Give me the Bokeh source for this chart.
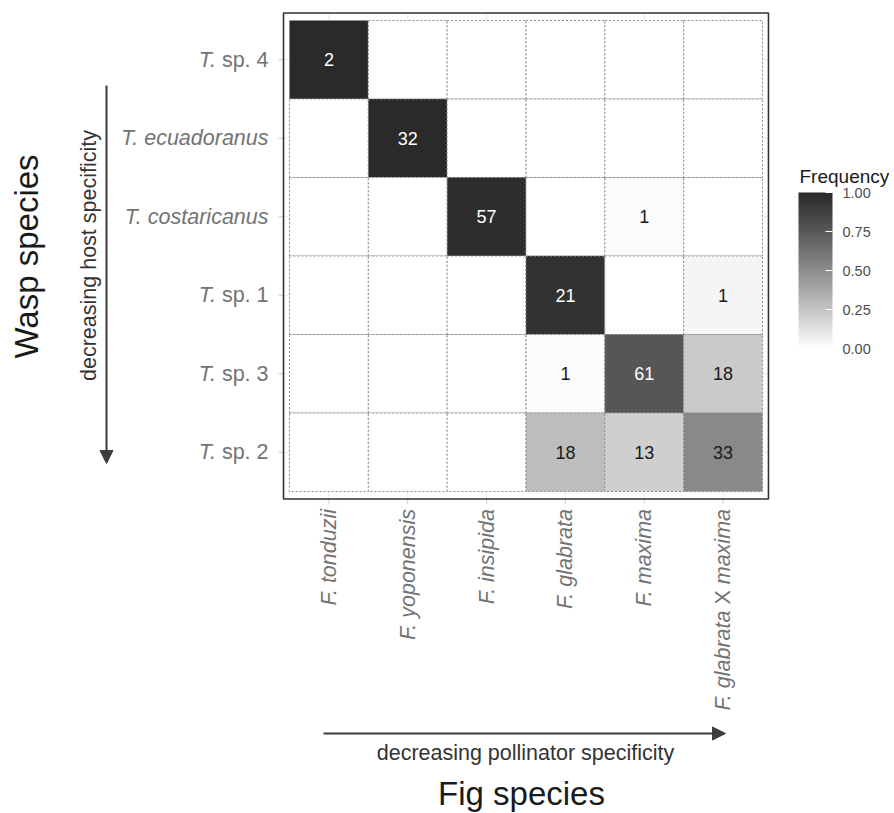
import math
from bokeh.plotting import figure
from bokeh.models import (ColumnDataSource, LinearColorMapper, ColorBar, FixedTicker,
                          PrintfTickFormatter, Arrow, NormalHead, Range1d)
from bokeh.embed import file_html
from bokeh.resources import INLINE
from bokeh.core.properties import value

# ---------------- data ----------------
fig_species = ["F. tonduzii", "F. yoponensis", "F. insipida", "F. glabrata",
               "F. maxima", "F. glabrata X maxima"]
wasp_species = ["T. sp. 4", "T. ecuadoranus", "T. costaricanus", "T. sp. 1",
                "T. sp. 3", "T. sp. 2"]
counts = [
    [2, 0, 0, 0, 0, 0],
    [0, 32, 0, 0, 0, 0],
    [0, 0, 57, 0, 1, 0],
    [0, 0, 0, 21, 0, 1],
    [0, 0, 0, 1, 61, 18],
    [0, 0, 0, 18, 13, 33],
]
legend_ticks = [0.0, 0.25, 0.5, 0.75, 1.0]

FONT = "Liberation Sans"

# ---------------- geometry (page pixels -> data units) ----------------
W_PX, H_PX = 894, 813
TILE_LEFT, TILE_TOP = 289, 20          # page px of the tile grid's top-left corner
UX, UY = 78.83, 78.5                   # px per cell
NCOL, NROW = len(fig_species), len(wasp_species)
EXP_X, EXP_Y = 6 / UX, 7.5 / UY        # panel expansion around tiles


def px_x(page_x):
    return (page_x - TILE_LEFT) / UX


def px_y(page_y):
    return NROW - (page_y - TILE_TOP) / UY


# Arial / Liberation Sans advance widths (per em)
W = {" ": .278, ".": .278, "s": .5, "p": .556, "X": .667, "m": .833, "a": .556,
     "x": .5, "i": .222}
for d in "0123456789":
    W[d] = .556


def text_w(s, size):
    return sum(W[c] for c in s) * size


# ---------------- colour scale (Lab lightness interpolation, white -> dark grey) ----------------
def grey_to_L(v):
    c = v / 255
    lin = c / 12.92 if c <= 0.04045 else ((c + 0.055) / 1.055) ** 2.4
    f = lin ** (1 / 3) if lin > 0.008856 else 7.787 * lin + 16 / 116
    return 116 * f - 16


def L_to_grey(Lv):
    fy = (Lv + 16) / 116
    Y = fy ** 3 if fy ** 3 > 0.008856 else Lv / 903.3
    s = 12.92 * Y if Y <= 0.0031308 else 1.055 * Y ** (1 / 2.4) - 0.055
    g = max(0, min(255, int(round(255 * s))))
    return "#%02x%02x%02x" % (g, g, g)


L_hi = grey_to_L(42)
palette = [L_to_grey(100 + (L_hi - 100) * k / 255) for k in range(256)]
mapper = LinearColorMapper(palette=palette, low=0, high=1)

# ---------------- sources ----------------
xs, ys, fr = [], [], []
tx, ty, tt, tc = [], [], [], []
for i, row in enumerate(counts):
    tot = sum(row)
    for j, c in enumerate(row):
        f = c / tot
        xs.append(0.5 + j)
        ys.append(NROW - 0.5 - i)
        fr.append(f)
        if c > 0:
            tx.append(0.5 + j)
            ty.append(NROW - 0.5 - i)
            tt.append(str(c))
            tc.append("white" if f > 0.6 else "#1a1a1a")

tiles = ColumnDataSource(dict(x=xs, y=ys, freq=fr))
cell_labels = ColumnDataSource(dict(x=tx, y=ty, text=tt, color=tc))

# ---------------- figure (frame covers the whole canvas) ----------------
p = figure(width=W_PX, height=H_PX,
           x_range=Range1d(px_x(0), px_x(W_PX)), y_range=Range1d(px_y(H_PX), px_y(0)),
           min_border=0, x_axis_location=None, y_axis_location=None,
           output_backend="svg", toolbar_location=None,
           background_fill_color="white", border_fill_color="white")
p.outline_line_color = None
p.grid.visible = False

pl, pr = -EXP_X, NCOL + EXP_X
pb, pt = -EXP_Y, NROW + EXP_Y
xc = [0.5 + j for j in range(NCOL)]
yc = [NROW - 0.5 - i for i in range(NROW)]

# grid lines (under tiles)
p.segment(x0=xc, x1=xc, y0=[pb] * NCOL, y1=[pt] * NCOL, line_color="#ebebeb", line_width=1)
p.segment(x0=[pl] * NROW, x1=[pr] * NROW, y0=yc, y1=yc, line_color="#ebebeb", line_width=1)

# ticks
TICK = 5
p.segment(x0=xc, x1=xc, y0=[pb] * NCOL, y1=[pb - TICK / UY] * NCOL, line_color="#cfcfcf", line_width=1)
p.segment(x0=[pl] * NROW, x1=[pl - TICK / UX] * NROW, y0=yc, y1=yc, line_color="#cfcfcf", line_width=1)

# tiles
p.rect("x", "y", width=1, height=1, source=tiles,
       fill_color={"field": "freq", "transform": mapper},
       line_color="#8c8c8c", line_dash="2 2", line_width=1)
p.text("x", "y", text="text", source=cell_labels, text_color="color",
       text_align="center", text_baseline="middle",
       text_font=value(FONT), text_font_size="18px")

# panel border
p.quad(left=[pl], right=[pr], bottom=[pb], top=[pt], fill_color=None,
       line_color="#333333", line_width=1.6)

# ---------------- tick labels ----------------
TS = "21.5px"
TSN = 21.5
TCOL = "#737373"
y_right = pl - 15 / UX
up_x, up_y, up_t = [], [], []
it_x, it_y, it_t = [], [], []
for i, name in enumerate(wasp_species):
    if " sp. " in name:
        rest = name[3:]
        up_x.append(y_right); up_y.append(yc[i]); up_t.append(rest)
        it_x.append(y_right - text_w(" " + rest, TSN) / UX); it_y.append(yc[i]); it_t.append("T.")
    else:
        it_x.append(y_right); it_y.append(yc[i]); it_t.append(name)
p.text(it_x, it_y, text=it_t, text_align="right", text_baseline="middle",
       text_font=value(FONT), text_font_size=TS, text_font_style="italic", text_color=TCOL)
p.text(up_x, up_y, text=up_t, text_align="right", text_baseline="middle",
       text_font=value(FONT), text_font_size=TS, text_color=TCOL)

x_top = pb - 10 / UY
vx_i, vy_i, vt_i = [], [], []
vx_u, vy_u, vt_u = [], [], []
for j, name in enumerate(fig_species):
    if " X " in name:
        a, b = name.split(" X ")
        vx_i += [xc[j], xc[j]]
        vy_i += [x_top, x_top - text_w(" X " + b, TSN) / UY]
        vt_i += [b, a]
        vx_u.append(xc[j]); vy_u.append(x_top - text_w(" " + b, TSN) / UY); vt_u.append("X")
    else:
        vx_i.append(xc[j]); vy_i.append(x_top); vt_i.append(name)
p.text(vx_i, vy_i, text=vt_i, angle=math.pi / 2, text_align="right", text_baseline="middle",
       text_font=value(FONT), text_font_size=TS, text_font_style="italic", text_color=TCOL)
p.text(vx_u, vy_u, text=vt_u, angle=math.pi / 2, text_align="right", text_baseline="middle",
       text_font=value(FONT), text_font_size=TS, text_color=TCOL)

# ---------------- axis titles and arrows ----------------
ACOL = "#3d3d3d"
p.add_layout(Arrow(end=NormalHead(size=13, fill_color=ACOL, line_color=ACOL),
                   x_start=px_x(106), y_start=px_y(85), x_end=px_x(106), y_end=px_y(463),
                   line_color=ACOL, line_width=2))
p.add_layout(Arrow(end=NormalHead(size=13, fill_color=ACOL, line_color=ACOL),
                   x_start=px_x(323), y_start=px_y(733), x_end=px_x(725), y_end=px_y(733),
                   line_color=ACOL, line_width=2))

p.text([px_x(88)], [px_y(255)], text=["decreasing host specificity"], angle=math.pi / 2,
       text_align="center", text_baseline="middle", text_font=value(FONT),
       text_font_size=TS, text_color="#333333")
p.text([px_x(525)], [px_y(752)], text=["decreasing pollinator specificity"],
       text_align="center", text_baseline="middle", text_font=value(FONT),
       text_font_size=TS, text_color="#333333")
p.text([px_x(26)], [px_y(256)], text=["Wasp species"], angle=math.pi / 2,
       text_align="center", text_baseline="middle", text_font=value(FONT),
       text_font_size="33px", text_color="#1a1a1a")
p.text([px_x(521)], [px_y(793)], text=["Fig species"],
       text_align="center", text_baseline="middle", text_font=value(FONT),
       text_font_size="33px", text_color="#1a1a1a")

# ---------------- colour bar ----------------
BAR_LEFT, BAR_TOP, BAR_W, BAR_H = 798, 192, 34, 156
cb = ColorBar(color_mapper=mapper, ticker=FixedTicker(ticks=legend_ticks),
              formatter=PrintfTickFormatter(format="%.2f"),
              width=BAR_W, height=BAR_H, orientation="vertical", title=None,
              major_label_text_font=FONT, major_label_text_font_size="14.5px",
              major_label_text_color="#4d4d4d", label_standoff=10,
              major_tick_line_color="white", major_tick_in=7, major_tick_out=0,
              minor_tick_line_color=None,
              bar_line_color=None, border_line_color=None, background_fill_alpha=0,
              padding=0, location=(BAR_LEFT, H_PX - (BAR_TOP + BAR_H)))
p.add_layout(cb)

# white tick marks on the left edge of the bar (ggplot draws them on both sides)
tk_y = [px_y(BAR_TOP + BAR_H - v * BAR_H) for v in legend_ticks[1:-1]]
p.segment(x0=[px_x(BAR_LEFT)] * len(tk_y), x1=[px_x(BAR_LEFT + 7)] * len(tk_y),
          y0=tk_y, y1=tk_y, line_color="white", line_width=1)

p.text([px_x(799)], [px_y(176)], text=["Frequency"], text_align="left", text_baseline="middle",
       text_font=value(FONT), text_font_size="19px", text_color="#1a1a1a")

open("out.html", "w").write(file_html(p, INLINE))
